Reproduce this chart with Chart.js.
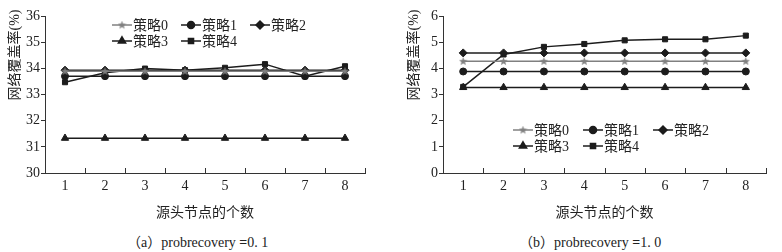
<!DOCTYPE html>
<html>
<head>
<meta charset="utf-8">
<script src="https://cdn.jsdelivr.net/npm/chart.js@4"></script>
<style>
  body { margin: 0; background: #fff; width: 782px; height: 252px; overflow: hidden; position: relative;
         font-family: "Liberation Serif", "Noto Sans CJK SC", serif; }
  .box { position: absolute; top: 0; width: 391px; height: 225px; }
  .cap { position: absolute; top: 231px; font-size: 14px; color: #222; white-space: nowrap; }
</style>
</head>
<body>
<div class="box" style="left:0"><canvas id="c1"></canvas></div>
<div class="box" style="left:391px"><canvas id="c2"></canvas></div>
<div class="cap" style="left:127px">（a）probrecovery <b>=</b>0. 1</div>
<div class="cap" style="left:519px">（b）probrecovery <b>=</b>1. 0</div>
<script>
// x categories: number of source nodes
const categories = ['1', '2', '3', '4', '5', '6', '7', '8'];
const seriesNames = ['策略0', '策略1', '策略2', '策略3', '策略4'];
const yTitle = '网络覆盖率(%)';
const xTitle = '源头节点的个数';

// (a) probrecovery = 0.1
const a0 = [33.89, 33.89, 33.89, 33.89, 33.89, 33.89, 33.89, 33.89];
const a1 = [33.70, 33.70, 33.70, 33.70, 33.70, 33.70, 33.70, 33.70];
const a2 = [33.93, 33.93, 33.93, 33.93, 33.93, 33.93, 33.93, 33.93];
const a3 = [31.33, 31.33, 31.33, 31.33, 31.33, 31.33, 31.33, 31.33];
const a4 = [33.47, 33.83, 33.99, 33.93, 34.02, 34.16, 33.70, 34.08];

// (b) probrecovery = 1.0
const b0 = [4.27, 4.27, 4.27, 4.27, 4.27, 4.27, 4.27, 4.27];
const b1 = [3.88, 3.88, 3.88, 3.88, 3.88, 3.88, 3.88, 3.88];
const b2 = [4.59, 4.59, 4.59, 4.59, 4.59, 4.59, 4.59, 4.59];
const b3 = [3.27, 3.27, 3.27, 3.27, 3.27, 3.27, 3.27, 3.27];
const b4 = [3.29, 4.53, 4.82, 4.93, 5.07, 5.11, 5.11, 5.25];

const dark = '#1c1c1c';
const grey = '#808080';
const fontFamily = '"Liberation Serif", "Noto Sans CJK SC", serif';

// small custom markers
function makeStar(color) {
  const c = document.createElement('canvas');
  c.width = 9; c.height = 9;
  const g = c.getContext('2d');
  g.fillStyle = color;
  g.beginPath();
  for (let i = 0; i < 10; i++) {
    const r = i % 2 ? 1.9 : 4.4;
    const a = -Math.PI / 2 + i * Math.PI / 5;
    g.lineTo(4.5 + r * Math.cos(a), 4.7 + r * Math.sin(a));
  }
  g.closePath();
  g.fill();
  return c;
}
const starImg = makeStar(grey);

const styles = [
  { color: grey, pointStyle: starImg, radius: 4 },
  { color: dark, pointStyle: 'circle', radius: 3.5 },
  { color: dark, pointStyle: 'rectRot', radius: 4 },
  { color: dark, pointStyle: 'triangle', radius: 4.2 },
  { color: dark, pointStyle: 'rect', radius: 3.6 },
];

const decor = {
  id: 'decor',
  afterDraw(chart, args, opts) {
    const ctx = chart.ctx, ca = chart.chartArea, xs = chart.scales.x;
    ctx.save();
    // inward tick marks between categories
    ctx.strokeStyle = '#333';
    ctx.lineWidth = 1;
    for (let i = 0; i <= categories.length; i++) {
      const px = Math.round(xs.getPixelForValue(i - 0.5)) + 0.5;
      ctx.beginPath();
      ctx.moveTo(px, ca.bottom);
      ctx.lineTo(px, ca.bottom - 5);
      ctx.stroke();
    }
    // axis titles
    ctx.fillStyle = '#222';
    ctx.font = '14px ' + fontFamily;
    ctx.textAlign = 'center';
    ctx.textBaseline = 'middle';
    ctx.fillText(xTitle, (ca.left + ca.right) / 2, opts.xTitleY);
    ctx.save();
    ctx.translate(opts.yTitleX, opts.yTitleY);
    ctx.rotate(-Math.PI / 2);
    ctx.fillText(yTitle, 0, 0);
    ctx.restore();
    // legend
    ctx.font = '14px ' + fontFamily;
    ctx.textAlign = 'left';
    const rows = [[0, 1, 2], [3, 4]];
    rows.forEach((row, r) => {
      row.forEach((idx, c) => {
        const x = opts.legendX + c * opts.legendColW;
        const y = opts.legendY + r * 16;
        const st = styles[idx];
        ctx.strokeStyle = st.color;
        ctx.fillStyle = st.color;
        ctx.lineWidth = 1.5;
        ctx.beginPath();
        ctx.moveTo(x, y);
        ctx.lineTo(x + 20, y);
        ctx.stroke();
        Chart.helpers.drawPoint(ctx, { pointStyle: st.pointStyle, radius: st.radius, rotation: 0, borderWidth: 1 }, x + 10, y);
        ctx.fillStyle = '#222';
        ctx.fillText(seriesNames[idx], x + 21, y + 1);
      });
    });
    ctx.restore();
  }
};

function makeChart(id, series, yMin, yMax, plotLeft, plotRight, deco) {
  const datasets = series.map((vals, i) => ({
    label: seriesNames[i],
    data: vals,
    borderColor: styles[i].color,
    backgroundColor: styles[i].color,
    borderWidth: 1.5,
    pointStyle: styles[i].pointStyle,
    pointRadius: styles[i].radius,
    pointBorderWidth: 1,
    tension: 0,
  }));
  return new Chart(document.getElementById(id), {
    type: 'line',
    data: { labels: categories, datasets },
    options: {
      responsive: true,
      maintainAspectRatio: false,
      animation: false,
      layout: { padding: { left: 0, right: 391 - plotRight, top: 16, bottom: 12 } },
      plugins: { legend: { display: false }, tooltip: { enabled: false }, decor: deco },
      scales: {
        x: {
          offset: true,
          grid: { display: false, drawTicks: false },
          border: { color: '#333', width: 1 },
          ticks: { color: '#222', padding: 5, font: { family: fontFamily, size: 14 } },
          afterFit(scale) { scale.height = 40; },
        },
        y: {
          min: yMin, max: yMax,
          grid: { drawOnChartArea: false, tickLength: 4, color: '#333' },
          border: { color: '#333', width: 1 },
          ticks: { stepSize: 1, color: '#222', padding: 1, font: { family: fontFamily, size: 14 } },
          afterFit(scale) { scale.width = plotLeft; },
        },
      },
    },
    plugins: [decor],
  });
}

makeChart('c1', [a0, a1, a2, a3, a4], 30, 36, 45, 365,
  { xTitleY: 213, yTitleX: 15, yTitleY: 55, legendX: 112, legendY: 25, legendColW: 69 });
makeChart('c2', [b0, b1, b2, b3, b4], 0, 6, 52, 375,
  { xTitleY: 213, yTitleX: 23, yTitleY: 55, legendX: 122, legendY: 130, legendColW: 70 });
</script>
</body>
</html>
